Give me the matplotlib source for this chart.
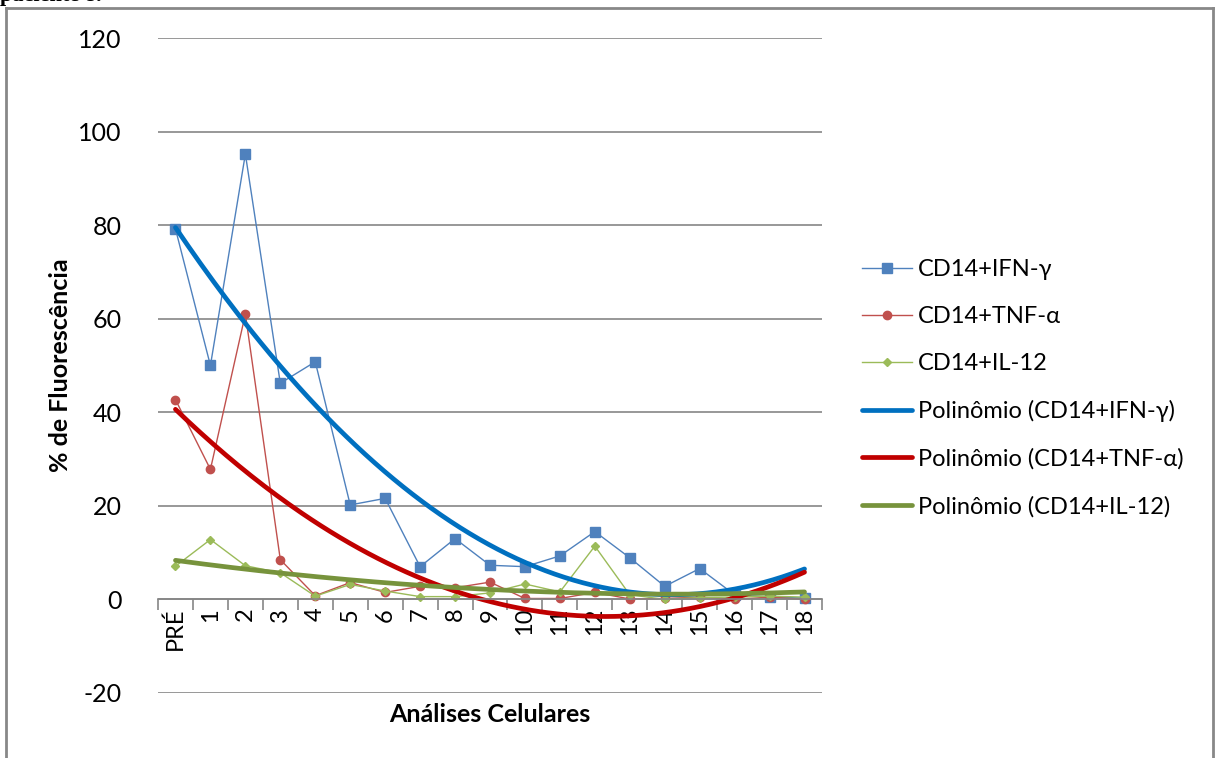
import matplotlib.pyplot as plt
import numpy as np
from matplotlib.lines import Line2D

# dados
categorias = ['PRÉ', '1', '2', '3', '4', '5', '6', '7', '8', '9', '10',
              '11', '12', '13', '14', '15', '16', '17', '18']
ifn = [79.2, 50.0, 95.2, 46.2, 50.8, 20.2, 21.6, 7.0, 13.0, 7.3, 7.0,
       9.3, 14.5, 8.9, 2.8, 6.6, 1.0, 0.5, 0.3]
tnf = [42.7, 27.8, 61.0, 8.5, 0.8, 3.6, 1.5, 2.8, 2.5, 3.7, 0.2,
       0.2, 1.5, 0.1, 0.2, 0.5, 0.0, 0.5, 0.0]
il12 = [7.1, 12.8, 7.2, 5.7, 0.7, 3.2, 1.8, 0.6, 0.6, 1.4, 3.3,
        1.6, 11.4, 1.0, 0.0, 0.4, 0.5, 0.7, 0.5]
nomes = ['CD14+IFN-γ', 'CD14+TNF-α', 'CD14+IL-12']

plt.rcParams['font.family'] = ['Lato', 'DejaVu Sans']
plt.rcParams['axes.unicode_minus'] = False

fig = plt.figure(figsize=(12.17, 7.58), dpi=100)
ax = fig.add_axes([158/1217, 1-693/758, (822-158)/1217, (693-38)/758])

x = np.arange(len(categorias))
cinza = '#868686'

ax.plot(x, ifn, color='#4F81BD', lw=1.0, marker='s', ms=6.5, label=nomes[0])
ax.plot(x, tnf, color='#C0504D', lw=1.0, marker='o', ms=6, label=nomes[1])
ax.plot(x, il12, color='#9BBB59', lw=1.0, marker='D', ms=4, label=nomes[2])

# linhas de tendencia polinomiais (ordem 2), como no Excel
xf = np.linspace(0, 18, 200)
cores_tend = ['#0070C0', '#C00000', '#77933C']
for serie, nome, cor in zip([ifn, tnf, il12], nomes, cores_tend):
    coef = np.polyfit(x, serie, 2)
    ax.plot(xf, np.polyval(coef, xf), color=cor, lw=3.4,
            solid_capstyle='round', label='Polinômio (' + nome + ')')

ax.set_xlim(-0.5, 18.5)
ax.set_ylim(-20, 120)
ax.set_yticks(np.arange(-20, 121, 20))
ax.grid(axis='y', color=cinza, lw=1.2)
ax.set_axisbelow(True)

for s in ['left', 'right', 'top']:
    ax.spines[s].set_visible(False)
ax.spines['bottom'].set_position(('data', 0))
ax.spines['bottom'].set_color(cinza)
ax.spines['bottom'].set_linewidth(1.2)

ax.set_xticks(np.arange(-0.5, 19, 1))
ax.set_xticklabels([])
ax.set_xticks(x, minor=True)
ax.set_xticklabels(categorias, minor=True, rotation=90, fontsize=17)
ax.tick_params(axis='x', which='major', direction='out', length=8,
               color=cinza, width=1.2)
ax.tick_params(axis='x', which='minor', length=0, pad=6)
ax.tick_params(axis='y', length=0, pad=26, labelsize=18)

fig.text(60/1217, 1-365/758, '% de Fluorescência', rotation=90,
         fontsize=18, fontweight='bold', ha='center', va='center')
fig.text(490/1217, 1-715/758, 'Análises Celulares',
         fontsize=18, fontweight='bold', ha='center', va='center')

leg = ax.legend(loc='upper left', bbox_to_anchor=(841/1217, 1-238/758),
                bbox_transform=fig.transFigure, frameon=False, fontsize=17,
                handlelength=2.1, handletextpad=0.25, labelspacing=1.1)

# moldura do grafico
fig.add_artist(Line2D([6/1217, 6/1217], [0, 1-8/758], transform=fig.transFigure,
                      color='#888888', lw=2))
fig.add_artist(Line2D([6/1217, 1213/1217], [1-8/758, 1-8/758],
                      transform=fig.transFigure, color='#888888', lw=2))
fig.add_artist(Line2D([1213/1217, 1213/1217], [0, 1-8/758],
                      transform=fig.transFigure, color='#888888', lw=2))

fig.text(0.0, 1-1.5/758, 'paciente 8.', fontsize=16, fontweight='bold',
         family='Liberation Serif', ha='left', va='baseline')

fig.savefig('out.png', dpi=100)
